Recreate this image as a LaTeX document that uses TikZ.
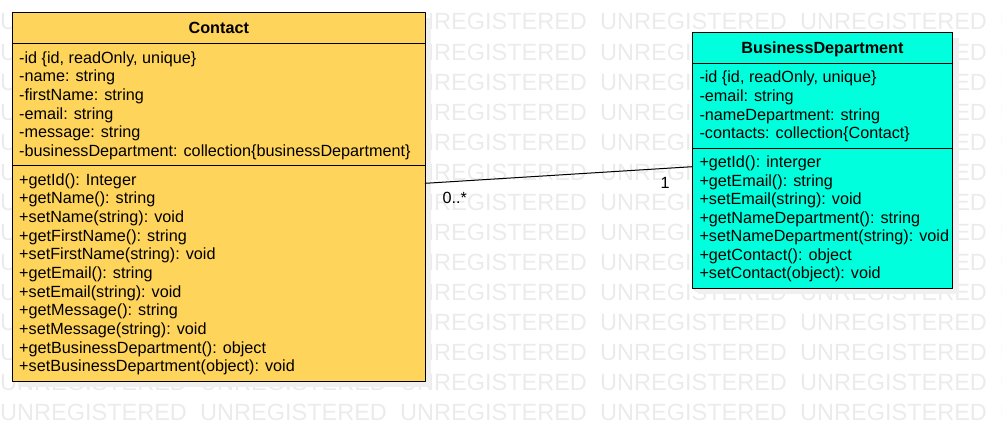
\documentclass[tikz,border=0pt]{standalone}
\usepackage{fontspec}
\setmainfont{Liberation Sans}
\usetikzlibrary{calc}
\definecolor{contactyellow}{HTML}{FFD45A}
\definecolor{deptcyan}{HTML}{00FFDD}
\tikzset{
	member/.style={anchor=base west, inner sep=0pt, font=\fontsize{16.2}{18}\selectfont},
	classname/.style={anchor=base, inner sep=0pt, font=\fontsize{16.2}{18}\selectfont\bfseries},
	multlabel/.style={anchor=base, inner sep=0pt, font=\fontsize{16.2}{18}\selectfont},
	watermark/.style={anchor=base west, inner sep=0pt, text=black!8, font=\fontsize{23.5}{24}\selectfont},
	classbox/.style={draw, line width=1pt},
	boxshadow/.style={fill=black!6, draw=none}
}
\begin{document}
\begin{tikzpicture}[x=1pt, y=-1pt, line join=round, line cap=round]
	\useasboundingbox (0,0) rectangle (1002,431);
	\clip (0,0) rectangle (1002,431);
	% watermark
	\foreach \r in {0,...,13}
	\foreach \c in {0,...,5}
	\node[watermark] (wm\r-\c) at (\c*200, 30+\r*30) {UNREGISTERED};
	% Contact
	\coordinate (C1)at(12.3,12.3);
	\coordinate (C2)at(425.3,381);
	\coordinate (Ch)at(12.3,43.3);
	\coordinate (Ca)at(12.3,165.7);
	\fill[boxshadow] ($(C1)+(6,6)$) rectangle ($(C2)+(6,6)$);
	\draw[classbox, fill=contactyellow] (C1) rectangle (C2);
	\draw[classbox] (Ch)--(Ch-|C2) (Ca)--(Ca-|C2);
	\node[classname] (contact) at (218.8,33.3) {Contact};
	\foreach \txt [count=\i from 0] in {{-id \{id, readOnly, unique\}}, {-name: string}, {-firstName: string}, {-email: string}, {-message: string}, {-businessDepartment: collection\{businessDepartment\}}}
	\node[member] (ca\i) at (19, 63+\i*18.67) {\txt};
	\foreach \txt [count=\i from 0] in {{+getId(): Integer}, {+getName(): string}, {+setName(string): void}, {+getFirstName(): string}, {+setFirstName(string): void}, {+getEmail(): string}, {+setEmail(string): void}, {+getMessage(): string}, {+setMessage(string): void}, {+getBusinessDepartment(): object}, {+setBusinessDepartment(object): void}}
	\node[member] (cm\i) at (19, 185+\i*18.67) {\txt};
	% BusinessDepartment
	\coordinate (B1)at(692.3,32.3);
	\coordinate (B2)at(952.7,288.3);
	\coordinate (Bh)at(692.3,63.3);
	\coordinate (Ba)at(692.3,148.3);
	\fill[boxshadow] ($(B1)+(6,6)$) rectangle ($(B2)+(6,6)$);
	\draw[classbox, fill=deptcyan] (B1) rectangle (B2);
	\draw[classbox] (Bh)--(Bh-|B2) (Ba)--(Ba-|B2);
	\node[classname] (dept) at (822.5,53.3) {BusinessDepartment};
	\foreach \txt [count=\i from 0] in {{-id \{id, readOnly, unique\}}, {-email: string}, {-nameDepartment: string}, {-contacts: collection\{Contact\}}}
	\node[member] (ba\i) at (699.3, 82.7+\i*18.67) {\txt};
	\foreach \txt [count=\i from 0] in {{+getId(): interger}, {+getEmail(): string}, {+setEmail(string): void}, {+getNameDepartment(): string}, {+setNameDepartment(string): void}, {+getContact(): object}, {+setContact(object): void}}
	\node[member] (bm\i) at (699.3, 167.7+\i*18.5) {\txt};
	% association
	\coordinate (assocC)at(425.3,183.3);
	\coordinate (assocB)at(692.3,166.7);
	\draw[line width=1pt] (assocC)--(assocB);
	\node[multlabel] (multC) at (454.7,203.3) {0..*};
	\node[multlabel] (multB) at (665,188.3) {1};
\end{tikzpicture}
\end{document}
